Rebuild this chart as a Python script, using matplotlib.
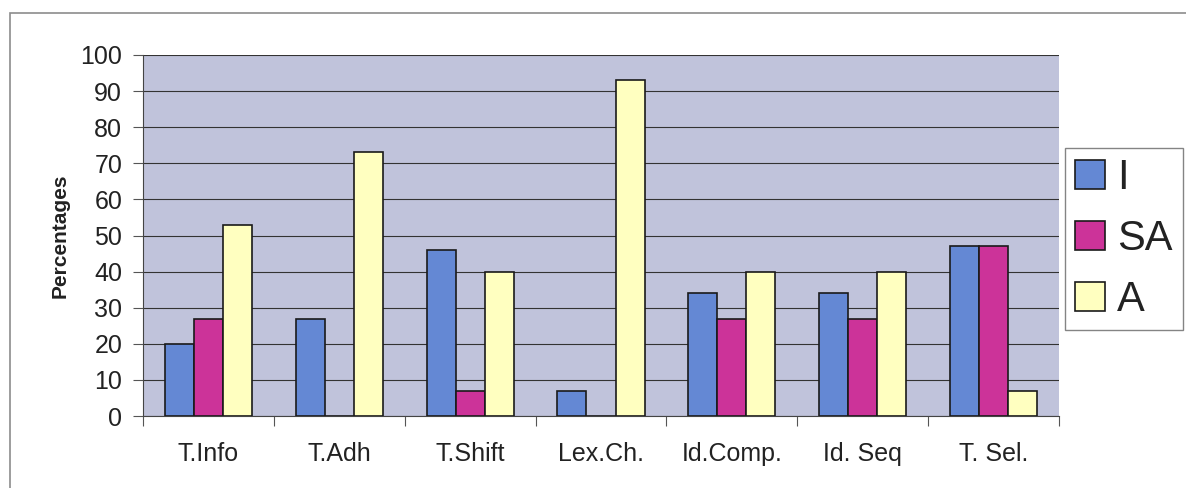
import numpy as np
import matplotlib.pyplot as plt
from matplotlib.patches import Rectangle

# data
categories = ['T.Info', 'T.Adh', 'T.Shift', 'Lex.Ch.', 'Id.Comp.', 'Id. Seq', 'T. Sel.']
series_names = ['I', 'SA', 'A']
vals_I = [20, 27, 46, 7, 34, 34, 47]
vals_SA = [27, 0, 7, 0, 27, 27, 47]
vals_A = [53, 73, 40, 93, 40, 40, 7]
yticks = list(range(0, 101, 10))

colors = ['#6488D4', '#CC3399', '#FFFFC0']
font = 'Liberation Sans'

fig = plt.figure(figsize=(11.86, 4.88), dpi=100)
fig.patch.set_facecolor('white')

# outer chart border (Excel style)
fig.add_artist(Rectangle((10/1186, -0.01), 1.2, 1 - 13/488 + 0.01,
                         transform=fig.transFigure, fill=False,
                         edgecolor='#8C8C8C', linewidth=1.2))

ax = fig.add_axes([143/1186, 1 - 416/488, (1059-143)/1186, (416-55)/488])
ax.set_facecolor('#C0C3DB')

x = np.arange(len(categories))
w = 1 / 4.5  # Excel gap width 150%
for i, (name, vals) in enumerate(zip(series_names, [vals_I, vals_SA, vals_A])):
    ax.bar(x + (i - 1) * w, vals, width=w, color=colors[i],
           edgecolor='#1A1A1A', linewidth=1.2, label=name, zorder=3)

ax.set_xlim(-0.5, len(categories) - 0.5)
ax.set_ylim(0, 100)
ax.set_yticks(yticks)
ax.set_yticklabels([str(t) for t in yticks], fontsize=18, family=font, color='#222222')
ax.yaxis.grid(True, color='#333333', linewidth=0.8, zorder=0)

# category boundaries get the tick marks, names sit in between
ax.set_xticks(np.arange(len(categories) + 1) - 0.5)
ax.set_xticklabels([])
ax.set_xticks(x, minor=True)
ax.set_xticklabels(categories, minor=True, fontsize=18, family=font, color='#222222')
ax.tick_params(axis='x', which='minor', length=0, pad=19)
ax.tick_params(axis='x', which='major', length=7, color='#555555')
ax.tick_params(axis='y', length=7, color='#555555', pad=8)

for s in ['top', 'right']:
    ax.spines[s].set_visible(False)
ax.spines['left'].set_color('#444444')
ax.spines['bottom'].set_color('#444444')

ax.set_ylabel('Percentages', fontsize=15, fontweight='bold', family=font,
              color='#222222', labelpad=8)

leg = ax.legend(loc='upper left', bbox_to_anchor=(1065/1186, 1 - 148/488),
                bbox_transform=fig.transFigure, frameon=True, fancybox=False,
                prop={'family': font, 'size': 30},
                handlelength=0.7, handleheight=0.7, handletextpad=0.3,
                labelspacing=0.5, borderpad=0.25, borderaxespad=0)
leg.get_frame().set_edgecolor('#666666')
leg.get_frame().set_linewidth(1.0)
for t in leg.get_texts():
    t.set_color('#222222')

fig.savefig('out.png', dpi=100)
